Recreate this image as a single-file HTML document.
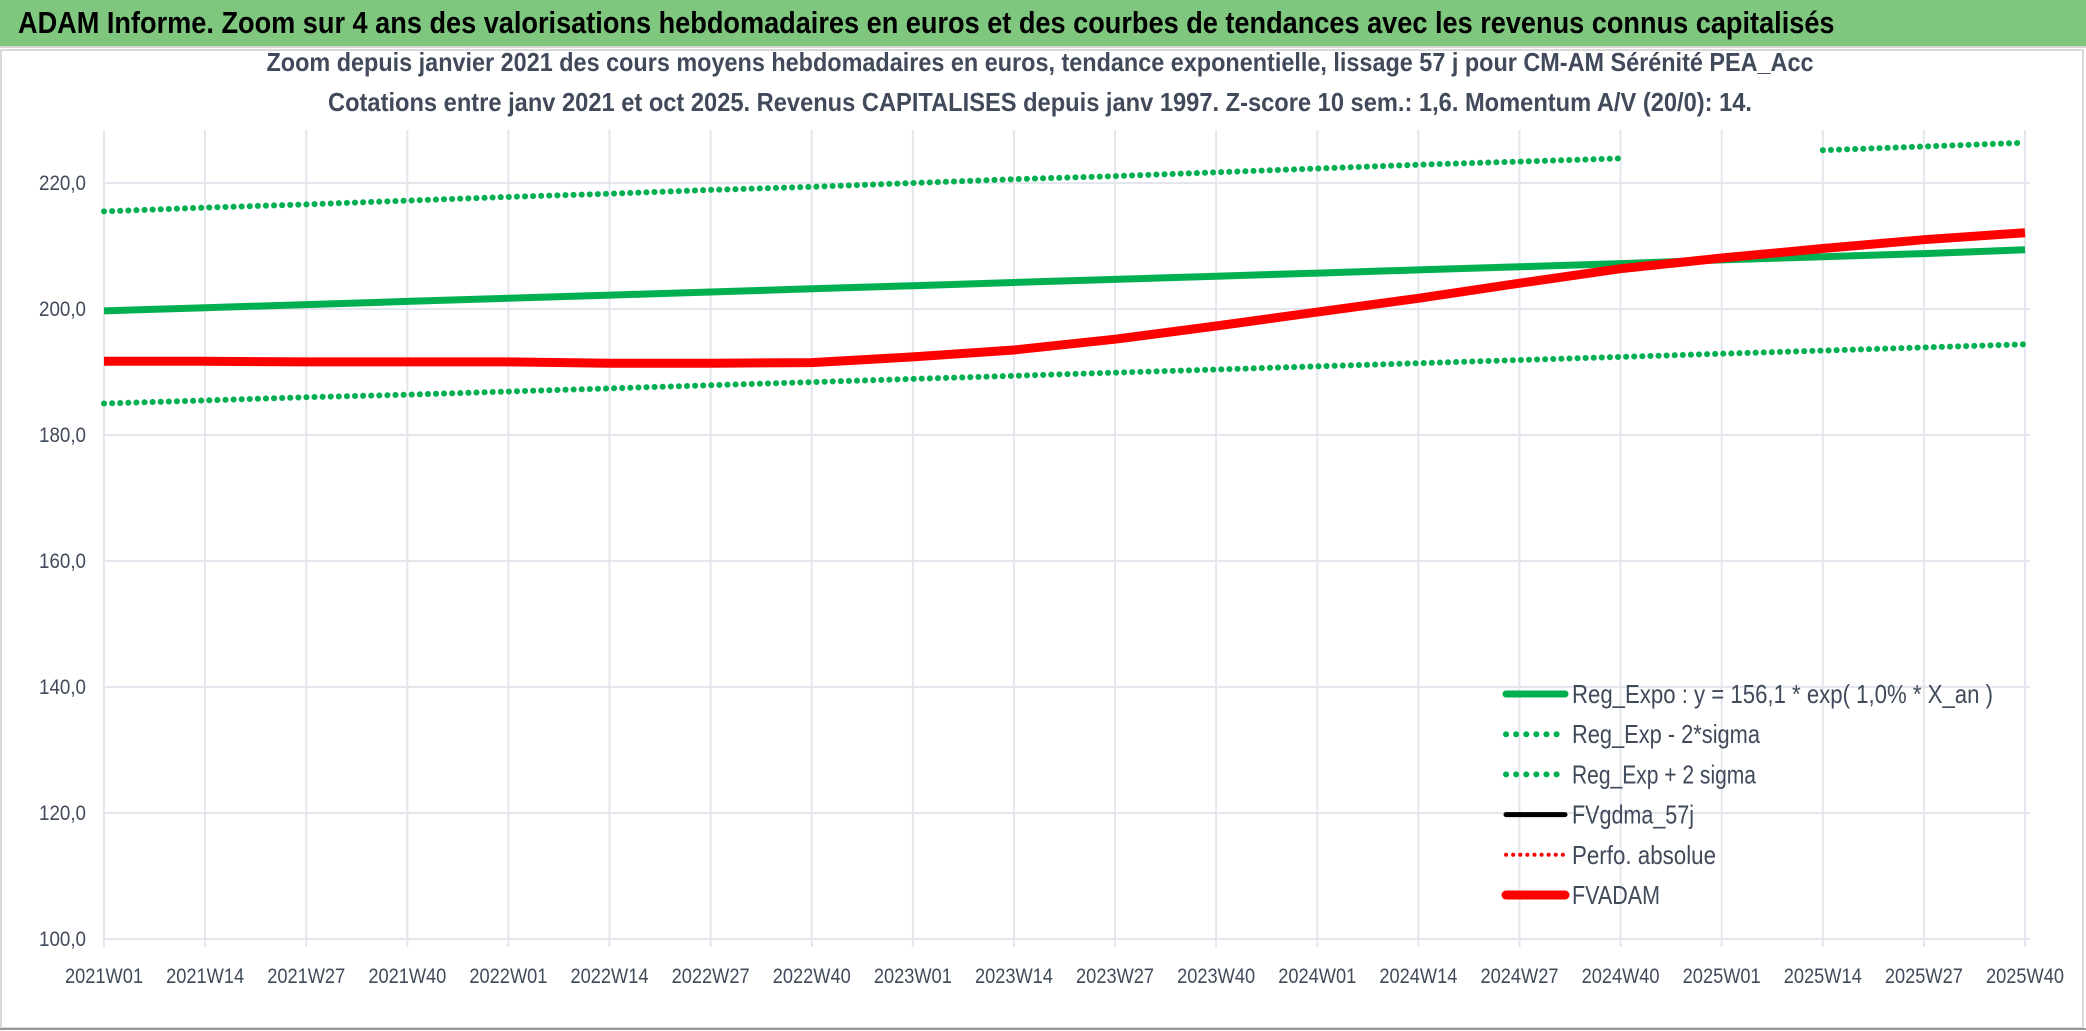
<!DOCTYPE html>
<html><head><meta charset="utf-8">
<style>
html,body{margin:0;padding:0;background:#fff;}
body{width:2086px;height:1031px;overflow:hidden;position:relative;font-family:"Liberation Sans Narrow","Liberation Sans",sans-serif;}
#hdr{position:absolute;left:0;top:0;width:2086px;height:46px;background:#7fc77f;border-bottom:2px solid #d8d8d8;}
#hdr span{position:absolute;left:18px;top:5px;font-size:31px;font-weight:bold;color:#000;white-space:nowrap;transform:scaleX(0.875);transform-origin:left;}
svg{position:absolute;left:0;top:0;}
</style></head>
<body>
<div id="hdr"><span>ADAM Informe. Zoom sur 4 ans des valorisations hebdomadaires en euros et des courbes de tendances avec les revenus connus capitalisés</span></div>
<svg id="chart" width="2086" height="1031">
<rect x="1" y="50" width="2082" height="978" fill="none" stroke="#d9d9d9" stroke-width="2"/>
<line x1="0" y1="1029" x2="2086" y2="1029" stroke="#999" stroke-width="2"/>
<text x="1040" y="71" text-anchor="middle" font-size="26" font-weight="bold" fill="#404a5a" textLength="1547" lengthAdjust="spacingAndGlyphs">Zoom depuis janvier 2021 des cours moyens hebdomadaires en euros, tendance exponentielle, lissage 57 j pour CM-AM Sérénité PEA_Acc</text>
<text x="1040" y="111" text-anchor="middle" font-size="26" font-weight="bold" fill="#404a5a" textLength="1424" lengthAdjust="spacingAndGlyphs">Cotations entre janv 2021 et oct 2025. Revenus CAPITALISES depuis janv 1997. Z-score 10 sem.: 1,6. Momentum A/V (20/0): 14.</text>
<g id="grid"></g><g id="axes"></g><g id="series"></g><g id="legend"></g>
</svg>
<script>
const xLabels=["2021W01","2021W14","2021W27","2021W40","2022W01","2022W14","2022W27","2022W40","2023W01","2023W14","2023W27","2023W40","2024W01","2024W14","2024W27","2024W40","2025W01","2025W14","2025W27","2025W40"];
const yTicks=[100,120,140,160,180,200,220];
const yTickLabels=["100,0","120,0","140,0","160,0","180,0","200,0","220,0"];
const regExpo=[199.7,200.2,200.7,201.2,201.7,202.2,202.7,203.2,203.7,204.2,204.7,205.2,205.7,206.2,206.7,207.2,207.8,208.3,208.8,209.4];
const regLow=[185.0,185.5,186.0,186.4,186.9,187.4,187.9,188.4,188.9,189.4,189.9,190.4,190.9,191.4,191.9,192.4,192.9,193.4,193.9,194.4];
const regHigh=[215.5,216.1,216.6,217.2,217.8,218.3,218.9,219.4,220.0,220.6,221.1,221.7,222.3,222.9,223.4,223.9,null,225.2,225.8,226.4];
const fvadam=[191.7,191.7,191.6,191.6,191.6,191.4,191.4,191.5,192.4,193.5,195.2,197.3,199.5,201.7,204.1,206.4,208.1,209.6,211.0,212.1];
const X0=104,X1=2025,Y100=939,PXU=6.3;
const xs=i=>X0+(X1-X0)*i/(xLabels.length-1);
const ys=v=>Y100-(v-100)*PXU;
const NS="http://www.w3.org/2000/svg";
function mk(tag,attrs,parent,txt){const e=document.createElementNS(NS,tag);for(const k in attrs)e.setAttribute(k,attrs[k]);if(txt!==undefined)e.textContent=txt;parent.appendChild(e);return e;}
const gridG=document.getElementById('grid'),axesG=document.getElementById('axes'),serG=document.getElementById('series'),legG=document.getElementById('legend');
yTicks.forEach((t,i)=>{
 const l=mk('line',{x1:X0,x2:X1+5,y1:ys(t),y2:ys(t),stroke:'#e3e6ec','stroke-width':2},gridG);
 
 
 const tx=mk('text',{x:86,y:ys(t)+7,'text-anchor':'end','font-size':21,fill:'#404a5a',textLength:47,lengthAdjust:'spacingAndGlyphs'},axesG,yTickLabels[i]);
 
 
});
xLabels.forEach((lab,i)=>{
 const l=mk('line',{x1:xs(i),x2:xs(i),y1:130,y2:Y100+8,stroke:'#e3e6ec','stroke-width':2},gridG);
 
 
 const tx=mk('text',{x:xs(i),y:983,'text-anchor':'middle','font-size':21,fill:'#404a5a',textLength:78,lengthAdjust:'spacingAndGlyphs'},axesG,lab);
 
 
});
function path(arr){let d='',pen=false;arr.forEach((v,i)=>{if(v===null){pen=false;return;}d+=(pen?'L':'M')+xs(i).toFixed(1)+' '+ys(v).toFixed(1)+' ';pen=true;});return d;}
const pl=mk('path',{d:path(regLow),fill:'none',stroke:'#00b050','stroke-width':6,'stroke-dasharray':'0.1 8','stroke-linecap':'round'},serG);


const ph=mk('path',{d:path(regHigh),fill:'none',stroke:'#00b050','stroke-width':6,'stroke-dasharray':'0.1 8','stroke-linecap':'round'},serG);


const pr=mk('path',{d:path(regExpo),fill:'none',stroke:'#00b050','stroke-width':7},serG);


const pf=mk('path',{d:path(fvadam),fill:'none',stroke:'#ff0000','stroke-width':9,'stroke-linejoin':'round'},serG);


const legItems=[["Reg_Expo : y = 156,1 * exp( 1,0% *  X_an )","#00b050",7,null],["Reg_Exp - 2*sigma","#00b050",6,"0.1 10"],["Reg_Exp + 2 sigma","#00b050",6,"0.1 10"],["FVgdma_57j","#000",5,null],["Perfo. absolue","#ff0000",4,"0.1 7"],["FVADAM","#ff0000",9,null]];
const legWidths=[421,188,184,122,144,88];
const legNames=["legend-reg-expo","legend-reg-minus","legend-reg-plus","legend-fvgdma","legend-perfo","legend-fvadam"];
legItems.forEach((it,i)=>{
 const y=694+i*40.2;
 const g=mk('g',{},legG);
 
 
 const a={x1:1506,x2:1565,y1:y,y2:y,stroke:it[1],'stroke-width':it[2],'stroke-linecap':'round'};
 if(it[3])a['stroke-dasharray']=it[3];
 mk('line',a,g);
 mk('text',{x:1572,y:y+9,'font-size':26,fill:'#404a5a',textLength:legWidths[i],lengthAdjust:'spacingAndGlyphs'},g,it[0]);
});
</script>
</body></html>
